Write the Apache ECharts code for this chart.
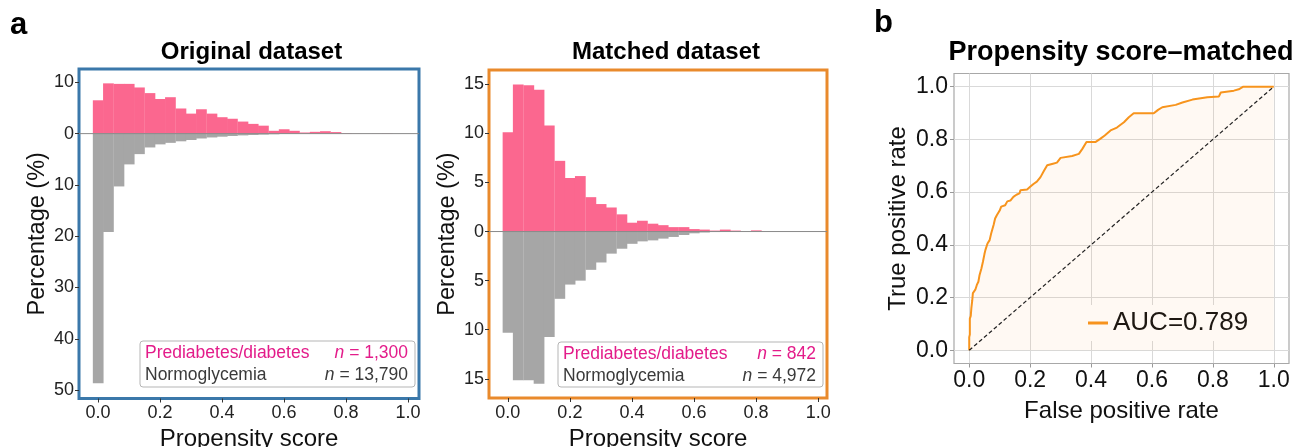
<!DOCTYPE html>
<html><head><meta charset="utf-8">
<script src="https://cdn.jsdelivr.net/npm/echarts@6/dist/echarts.min.js"></script>
<style>html,body{margin:0;padding:0;background:#fff}#c{width:1306px;height:447px}</style>
</head><body><div id="c"></div>
<script>
const FONT = '"Liberation Sans", Arial, Helvetica, sans-serif';

// ---- histogram data (percentage per propensity-score bin) ----
const binCenters = [0.000, 0.033, 0.067, 0.100, 0.133, 0.167, 0.200, 0.233, 0.267, 0.300,
                    0.333, 0.367, 0.400, 0.433, 0.467, 0.500, 0.533, 0.567, 0.600, 0.633,
                    0.667, 0.700, 0.733, 0.767, 0.800, 0.833, 0.867, 0.900, 0.933, 0.967];
const BIN_WIDTH = 1 / 30;
const origPrediabetes = [6.5, 9.8, 9.7, 9.7, 9.0, 7.9, 6.75, 7.1, 4.9, 3.9,
                         4.75, 3.9, 3.2, 2.9, 2.35, 1.9, 1.55, 0.55, 0.85, 0.55,
                         0.22, 0.35, 0.47, 0.3, 0.08, 0.03, 0.02, 0.03, 0.05, 0];
const origNormo = [48.7, 19.2, 10.3, 6.0, 4.0, 2.7, 2.1, 1.8, 1.5, 1.25,
                   0.95, 0.75, 0.6, 0.47, 0.35, 0.27, 0.2, 0.13, 0.08, 0.05,
                   0.03, 0.02, 0, 0, 0, 0, 0, 0, 0, 0];
const matchPrediabetes = [10.1, 14.97, 14.9, 14.45, 10.8, 7.2, 5.45, 5.65, 3.5, 2.8,
                          2.45, 1.75, 0.9, 1.1, 0.8, 0.65, 0.45, 0.45, 0.25, 0.2,
                          0.1, 0.2, 0.1, 0, 0.12, 0, 0, 0, 0, 0];
const matchNormo = [10.3, 15.15, 15.15, 15.5, 10.75, 6.85, 5.4, 5.0, 3.9, 3.15,
                    2.25, 1.75, 1.25, 1.0, 0.9, 0.72, 0.55, 0.35, 0.18, 0.1,
                    0.05, 0.02, 0, 0, 0, 0, 0, 0, 0, 0];
const histXTicks = [0, 0.2, 0.4, 0.6, 0.8, 1.0];
const origYTicks = [-50, -40, -30, -20, -10, 0, 10];
const matchYTicks = [-15, -10, -5, 0, 5, 10, 15];
const origCounts = ['1,300', '13,790'];
const matchCounts = ['842', '4,972'];

// ---- ROC curve ----
const rocFpr = [0, 0, 0.002, 0.002, 0.005, 0.007, 0.01, 0.012, 0.02, 0.025, 0.03, 0.034, 0.04, 0.045,
  0.05, 0.053, 0.06, 0.067, 0.072, 0.08, 0.085, 0.091, 0.1, 0.105, 0.118, 0.125, 0.135, 0.145,
  0.155, 0.165, 0.168, 0.19, 0.2, 0.212, 0.222, 0.234, 0.245, 0.256, 0.275, 0.288, 0.3, 0.305,
  0.338, 0.36, 0.372, 0.385, 0.414, 0.43, 0.445, 0.464, 0.485, 0.508, 0.524, 0.54, 0.606, 0.62,
  0.634, 0.678, 0.7, 0.733, 0.782, 0.82, 0.826, 0.869, 0.885, 0.9, 1.0];
const rocTpr = [0, 0.05, 0.06, 0.12, 0.13, 0.16, 0.19, 0.217, 0.23, 0.248, 0.26, 0.286, 0.31, 0.336,
  0.365, 0.38, 0.405, 0.418, 0.443, 0.475, 0.5, 0.513, 0.53, 0.545, 0.55, 0.565, 0.568, 0.582,
  0.59, 0.595, 0.607, 0.61, 0.62, 0.632, 0.64, 0.657, 0.68, 0.702, 0.708, 0.712, 0.73, 0.737,
  0.737, 0.745, 0.765, 0.79, 0.79, 0.802, 0.815, 0.834, 0.845, 0.865, 0.884, 0.899, 0.899, 0.912,
  0.922, 0.931, 0.94, 0.951, 0.96, 0.963, 0.978, 0.985, 0.99, 1.0, 1.0];
const chanceLine = [[0, 0], [1, 1]];
const rocTicks = [0, 0.2, 0.4, 0.6, 0.8, 1.0];
const aucLabel = 'AUC=0.789';

// ---- colours ----
const PINK = '#fb678f', GRAY = '#a6a6a6', MAGENTA = '#e31c8a', DARK = '#3a3a3a';
const BLUE = '#3b78aa', ORANGE = '#e98a2c', ROC = '#f7941d';

function histData(vals, sign) {
  return binCenters.map((c, i) => [c - BIN_WIDTH / 2, c + BIN_WIDTH / 2, sign * vals[i]]);
}
function histRender(color) {
  return function (params, api) {
    const a = api.coord([api.value(0), 0]);
    const b = api.coord([api.value(1), api.value(2)]);
    const h = Math.abs(b[1] - a[1]);
    if (h === 0) return null;
    return { type: 'rect', shape: { x: a[0], y: Math.min(a[1], b[1]), width: b[0] - a[0] + 0.4, height: h },
             style: { fill: color } };
  };
}
const tickStyle = { color: '#333', width: 1 };
function histX(gi, min, max) {
  return { gridIndex: gi, type: 'value', min: min, max: max,
    axisLine: { show: false, onZero: false },
    axisTick: { show: true, length: 4, lineStyle: tickStyle, customValues: histXTicks },
    axisLabel: { customValues: histXTicks, formatter: v => v.toFixed(1), fontSize: 18, color: '#222', fontFamily: FONT, margin: 6 },
    splitLine: { show: false },
    name: 'Propensity score', nameLocation: 'middle', nameGap: 18,
    nameTextStyle: { fontSize: 24, color: '#111', fontFamily: FONT } };
}
function histY(gi, min, max, ticks) {
  return { gridIndex: gi, type: 'value', min: min, max: max,
    axisLine: { show: false, onZero: false },
    axisTick: { show: true, length: 4, lineStyle: tickStyle, customValues: ticks },
    axisLabel: { customValues: ticks, formatter: v => String(Math.abs(Math.round(v))), fontSize: 18, color: '#222', fontFamily: FONT, margin: 5 },
    splitLine: { show: false },
    name: 'Percentage (%)', nameLocation: 'middle', nameGap: 29,
    nameTextStyle: { fontSize: 23.5, color: '#111', fontFamily: FONT } };
}
function rocAxis(gi, name, gap) {
  return { gridIndex: gi, type: 'value', min: -0.05, max: 1.05,
    axisLine: { show: false, onZero: false },
    axisTick: { show: true, length: 4, lineStyle: { color: '#999' }, customValues: rocTicks },
    axisLabel: { customValues: rocTicks, formatter: v => v.toFixed(1), fontSize: 23, color: '#111', fontFamily: FONT, margin: 6 },
    splitLine: { show: true, lineStyle: { color: '#d9d9d9', width: 1 } },
    name: name, nameLocation: 'middle', nameGap: gap,
    nameTextStyle: { fontSize: 24, color: '#111', fontFamily: FONT } };
}
function legendBox(x, y, w, h, counts) {
  const ital = { fontStyle: 'italic', fontSize: 17.5, fontFamily: FONT };
  return { type: 'group', children: [
    { type: 'rect', shape: { x: x, y: y, width: w, height: h, r: 3 }, style: { fill: '#fff', stroke: '#b5b5b5', lineWidth: 1 }, z: 10 },
    { type: 'text', x: x + 5, y: y + 12, z: 11, style: { text: 'Prediabetes/diabetes', fill: MAGENTA, font: '17.5px ' + FONT, verticalAlign: 'middle' } },
    { type: 'text', x: x + w - 7, y: y + 12, z: 11, style: { text: '{i|n} = ' + counts[0], fill: MAGENTA, font: '17.5px ' + FONT, align: 'right', verticalAlign: 'middle', rich: { i: Object.assign({ fill: MAGENTA }, ital) } } },
    { type: 'text', x: x + 5, y: y + 34, z: 11, style: { text: 'Normoglycemia', fill: DARK, font: '17.5px ' + FONT, verticalAlign: 'middle' } },
    { type: 'text', x: x + w - 7, y: y + 34, z: 11, style: { text: '{i|n} = ' + counts[1], fill: DARK, font: '17.5px ' + FONT, align: 'right', verticalAlign: 'middle', rich: { i: Object.assign({ fill: DARK }, ital) } } }
  ] };
}

const chart = echarts.init(document.getElementById('c'), null, { renderer: 'canvas' });
chart.setOption({
  animation: false,
  backgroundColor: '#fff',
  grid: [
    { left: 79, top: 69, width: 340, height: 329.5, show: true, borderColor: BLUE, borderWidth: 3, backgroundColor: 'transparent', outerBoundsMode: 'none', containLabel: false },
    { left: 489, top: 70, width: 338, height: 328, show: true, borderColor: ORANGE, borderWidth: 3, backgroundColor: 'transparent', outerBoundsMode: 'none', containLabel: false },
    { left: 954, top: 73.5, width: 335, height: 290, show: true, borderColor: '#a8a8a8', borderWidth: 1.2, backgroundColor: 'transparent', outerBoundsMode: 'none', containLabel: false }
  ],
  xAxis: [ histX(0, -0.0613, 1.0355), histX(1, -0.0606, 1.0284), rocAxis(2, 'False positive rate', 36) ],
  yAxis: [ histY(0, -51.65, 12.6, origYTicks), histY(1, -16.95, 16.45, matchYTicks), rocAxis(2, 'True positive rate', 44) ],
  legend: {
    data: [{ name: aucLabel, icon: 'rect' }], left: 1075, top: 305, orient: 'horizontal',
    padding: [5, 14, 5, 13], backgroundColor: '#ffffff', borderRadius: 3,
    itemWidth: 20, itemHeight: 3, itemGap: 6,
    textStyle: { fontSize: 26, color: '#111', fontFamily: FONT, padding: [0, 0, 0, 0] }
  },
  series: [
    { type: 'custom', name: 'Prediabetes/diabetes (original)', xAxisIndex: 0, yAxisIndex: 0, renderItem: histRender(PINK), encode: { x: [0, 1], y: 2 }, data: histData(origPrediabetes, 1), z: 2 },
    { type: 'custom', name: 'Normoglycemia (original)', xAxisIndex: 0, yAxisIndex: 0, renderItem: histRender(GRAY), encode: { x: [0, 1], y: 2 }, data: histData(origNormo, -1), z: 2 },
    { type: 'line', name: 'zero0', xAxisIndex: 0, yAxisIndex: 0, data: [[-0.0613, 0], [1.0355, 0]], symbol: 'none', lineStyle: { color: '#8a8a8a', width: 1 }, z: 3, silent: true },
    { type: 'custom', name: 'Prediabetes/diabetes (matched)', xAxisIndex: 1, yAxisIndex: 1, renderItem: histRender(PINK), encode: { x: [0, 1], y: 2 }, data: histData(matchPrediabetes, 1), z: 2 },
    { type: 'custom', name: 'Normoglycemia (matched)', xAxisIndex: 1, yAxisIndex: 1, renderItem: histRender(GRAY), encode: { x: [0, 1], y: 2 }, data: histData(matchNormo, -1), z: 2 },
    { type: 'line', name: 'zero1', xAxisIndex: 1, yAxisIndex: 1, data: [[-0.0606, 0], [1.0284, 0]], symbol: 'none', lineStyle: { color: '#8a8a8a', width: 1 }, z: 3, silent: true },
    { type: 'line', name: aucLabel, xAxisIndex: 2, yAxisIndex: 2, data: rocFpr.map((x, i) => [x, rocTpr[i]]), symbol: 'none', showSymbol: false,
      lineStyle: { color: ROC, width: 2 }, itemStyle: { color: ROC }, areaStyle: { color: 'rgba(247,148,29,0.08)', origin: 0 }, z: 4 },
    { type: 'line', name: 'chance', xAxisIndex: 2, yAxisIndex: 2, data: chanceLine, symbol: 'none', lineStyle: { color: '#222', width: 1.2, type: [4, 2.5] }, z: 5, silent: true }
  ],
  graphic: [
    { type: 'text', x: 10, y: 10, style: { text: 'a', font: 'bold 31px ' + FONT, fill: '#000' } },
    { type: 'text', x: 874, y: 8, style: { text: 'b', font: 'bold 31px ' + FONT, fill: '#000' } },
    { type: 'text', x: 251.5, y: 52, style: { text: 'Original dataset', font: 'bold 24px ' + FONT, fill: '#000', align: 'center', verticalAlign: 'middle' } },
    { type: 'text', x: 666, y: 52, style: { text: 'Matched dataset', font: 'bold 24px ' + FONT, fill: '#000', align: 'center', verticalAlign: 'middle' } },
    { type: 'text', x: 1121, y: 53, style: { text: 'Propensity score\u2013matched', font: 'bold 27px ' + FONT, fill: '#000', align: 'center', verticalAlign: 'middle' } },
    legendBox(140, 341, 275, 46, origCounts),
    legendBox(558, 342, 265, 45, matchCounts)
  ]
});
</script></body></html>
